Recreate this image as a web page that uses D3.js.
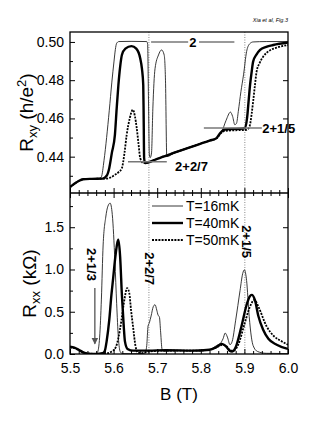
<!DOCTYPE html>
<html lang="en">
<head>
<meta charset="utf-8">
<script src="https://unpkg.com/d3@7/dist/d3.min.js"></script>
<style>
    body { margin: 0; background: #fff; }
    svg { display: block; font-family: "Liberation Sans", Arial, sans-serif; }
</style>
</head>
<body>
<div id="chart"></div>
<script>
// B (T), Rxy (h/e^2)
const rxy16 = [[5.500,0.4241],[5.510,0.4258],[5.520,0.4273],[5.530,0.4282],[5.550,0.4284],[5.566,0.4286],
    [5.572,0.4295],[5.578,0.4380],[5.584,0.4500],[5.590,0.4640],[5.596,0.4790],[5.601,0.4900],[5.604,0.4960],
    [5.607,0.4993],[5.612,0.5002],[5.640,0.5003],[5.676,0.5002],[5.678,0.4990],[5.680,0.4700],[5.682,0.4410],
    [5.684,0.4395],[5.687,0.4420],[5.690,0.4650],[5.695,0.4860],[5.703,0.4932],[5.710,0.4958],[5.716,0.4932],
    [5.719,0.4800],[5.722,0.4400],[5.740,0.4421],[5.780,0.4452],[5.810,0.4476],[5.836,0.4497],[5.848,0.4530],
    [5.858,0.4590],[5.868,0.4633],[5.873,0.4610],[5.878,0.4567],[5.882,0.4575],[5.886,0.4636],[5.892,0.4740],
    [5.898,0.4828],[5.905,0.4949],[5.912,0.4990],[5.920,0.5000],[5.950,0.5002],[6.000,0.5002]];
const rxy40 = [[5.500,0.4241],[5.510,0.4258],[5.520,0.4273],[5.530,0.4282],[5.550,0.4284],[5.575,0.4285],
    [5.584,0.4300],[5.590,0.4340],[5.596,0.4420],[5.603,0.4514],[5.607,0.4650],[5.611,0.4775],[5.615,0.4870],
    [5.619,0.4932],[5.627,0.4965],[5.641,0.4978],[5.652,0.4965],[5.661,0.4915],[5.665,0.4860],[5.668,0.4775],
    [5.669,0.4600],[5.670,0.4393],[5.672,0.4367],[5.676,0.4368],[5.700,0.4389],[5.741,0.4422],[5.780,0.4453],
    [5.820,0.4484],[5.836,0.4497],[5.845,0.4525],[5.855,0.4542],[5.870,0.4545],[5.890,0.4546],[5.901,0.4550],
    [5.906,0.4600],[5.910,0.4700],[5.913,0.4775],[5.917,0.4850],[5.920,0.4897],[5.928,0.4935],[5.936,0.4958],
    [5.950,0.4974],[5.966,0.4984],[6.000,0.4997]];
const rxy50 = [[5.500,0.4241],[5.510,0.4258],[5.520,0.4273],[5.530,0.4282],[5.550,0.4284],[5.580,0.4285],
    [5.592,0.4290],[5.603,0.4305],[5.612,0.4320],[5.619,0.4340],[5.625,0.4420],[5.630,0.4514],[5.637,0.4600],
    [5.644,0.4645],[5.649,0.4610],[5.653,0.4550],[5.657,0.4470],[5.661,0.4393],[5.668,0.4367],[5.676,0.4368],
    [5.700,0.4389],[5.741,0.4422],[5.780,0.4453],[5.820,0.4484],[5.836,0.4495],[5.845,0.4520],[5.855,0.4535],
    [5.880,0.4538],[5.905,0.4540],[5.912,0.4560],[5.917,0.4630],[5.920,0.4688],[5.924,0.4770],[5.928,0.4845],
    [5.935,0.4890],[5.943,0.4923],[5.958,0.4955],[5.974,0.4970],[6.000,0.4984]];

// B (T), Rxx (kOhm)
const rxx16 = [[5.500,0.075],[5.510,0.070],[5.520,0.050],[5.530,0.025],[5.540,0.008],[5.550,0.002],[5.558,0.003],
    [5.563,0.020],[5.568,0.200],[5.572,0.650],[5.576,1.290],[5.582,1.620],[5.587,1.750],[5.592,1.785],[5.597,1.650],
    [5.603,1.095],[5.607,0.600],[5.611,0.190],[5.615,0.030],[5.620,0.005],[5.640,0.003],[5.660,0.005],[5.672,0.010],
    [5.676,0.100],[5.679,0.330],[5.682,0.370],[5.686,0.450],[5.691,0.560],[5.695,0.583],[5.699,0.520],[5.702,0.460],
    [5.705,0.440],[5.708,0.250],[5.711,0.060],[5.715,0.035],[5.740,0.040],[5.780,0.040],[5.815,0.045],[5.825,0.060],
    [5.836,0.100],[5.844,0.120],[5.851,0.180],[5.856,0.248],[5.861,0.200],[5.867,0.110],[5.872,0.150],[5.880,0.400],
    [5.890,0.750],[5.896,0.950],[5.900,0.996],[5.905,0.870],[5.911,0.444],[5.916,0.200],[5.920,0.100],[5.930,0.030],
    [5.950,0.008],[6.000,0.005]];
const rxx40 = [[5.500,0.085],[5.510,0.075],[5.520,0.050],[5.530,0.020],[5.540,0.005],[5.560,0.002],[5.575,0.010],
    [5.580,0.040],[5.584,0.150],[5.590,0.400],[5.595,0.700],[5.599,0.898],[5.604,1.150],[5.611,1.351],[5.615,1.150],
    [5.619,0.700],[5.623,0.350],[5.626,0.149],[5.632,0.060],[5.645,0.040],[5.680,0.040],[5.720,0.045],[5.780,0.040],
    [5.820,0.050],[5.835,0.080],[5.848,0.120],[5.858,0.090],[5.866,0.040],[5.872,0.030],[5.880,0.080],[5.892,0.300],
    [5.905,0.580],[5.912,0.680],[5.917,0.700],[5.924,0.640],[5.932,0.450],[5.943,0.287],[5.955,0.180],[5.974,0.110],
    [6.000,0.060]];
const rxx50 = [[5.500,0.080],[5.510,0.070],[5.520,0.045],[5.530,0.018],[5.540,0.005],[5.560,0.002],[5.580,0.005],
    [5.596,0.030],[5.605,0.080],[5.611,0.190],[5.618,0.400],[5.625,0.650],[5.631,0.780],[5.636,0.720],[5.640,0.520],
    [5.645,0.307],[5.650,0.100],[5.655,0.020],[5.665,0.010],[5.680,0.030],[5.720,0.040],[5.780,0.040],[5.820,0.050],
    [5.835,0.075],[5.850,0.110],[5.860,0.085],[5.868,0.040],[5.875,0.040],[5.885,0.100],[5.900,0.350],[5.912,0.550],
    [5.923,0.640],[5.932,0.560],[5.951,0.326],[5.968,0.210],[5.986,0.149],[6.000,0.110]];

const legendLabels = ["T=16mK", "T=40mK", "T=50mK"];
const xTicks = [5.5, 5.6, 5.7, 5.8, 5.9, 6.0];
const xMinor = [5.52, 5.54, 5.56, 5.58, 5.62, 5.64, 5.66, 5.68, 5.72, 5.74, 5.76, 5.78, 5.82, 5.84, 5.86, 5.88, 5.92, 5.94, 5.96, 5.98];
const rxyTicks = [0.44, 0.46, 0.48, 0.50];
const rxyMinor = [0.43, 0.45, 0.47, 0.49];
const rxxTicks = [0.0, 0.5, 1.0, 1.5];
const rxxMinor = [0.25, 0.75, 1.25, 1.75];
const fractionB = [5.681, 5.901];

const width = 327, height = 423;
const pLeft = 70, pRight = 288, pTop = 32, pMid = 193, pBottom = 354;

const x = d3.scaleLinear().domain([5.5, 6.0]).range([pLeft, pRight]);
const yTop = d3.scaleLinear().domain([0.421, 0.5052]).range([pMid, pTop]);
const yBot = d3.scaleLinear().domain([0, 1.905]).range([pBottom, pMid]);

const styles = [
    { w: 0.9, color: "#222", dash: null },
    { w: 2.4, color: "#000", dash: null },
    { w: 1.8, color: "#000", dash: "2,1.2" }
];

const svg = d3.select("#chart").append("svg")
    .attr("width", width)
    .attr("height", height);

svg.append("defs").call(defs => {
    defs.append("clipPath").attr("id", "clipTop").append("rect")
        .attr("x", pLeft).attr("y", pTop).attr("width", pRight - pLeft).attr("height", pMid - pTop);
    defs.append("clipPath").attr("id", "clipBot").append("rect")
        .attr("x", pLeft).attr("y", pMid).attr("width", pRight - pLeft).attr("height", pBottom - pMid);
    defs.append("marker").attr("id", "arrow")
        .attr("viewBox", "0 0 10 10").attr("refX", 9).attr("refY", 5)
        .attr("markerWidth", 5).attr("markerHeight", 6).attr("orient", "auto")
        .append("path").attr("d", "M0,0L10,5L0,10z").attr("fill", "#555");
});

// dotted guide lines
svg.selectAll(".guide")
    .data(fractionB)
    .join("line")
    .attr("x1", d => x(d)).attr("x2", d => x(d))
    .attr("y1", pTop).attr("y2", pBottom)
    .attr("stroke", "#555").attr("stroke-width", 0.7)
    .attr("stroke-dasharray", "1,1.5");

// curves
const lineTop = d3.line().x(d => x(d[0])).y(d => yTop(d[1])).curve(d3.curveMonotoneX);
const lineBot = d3.line().x(d => x(d[0])).y(d => yBot(d[1])).curve(d3.curveMonotoneX);

svg.append("g").attr("clip-path", "url(#clipTop)")
    .selectAll("path")
    .data([rxy16, rxy40, rxy50])
    .join("path")
    .attr("d", lineTop)
    .attr("fill", "none")
    .attr("stroke", (d, i) => styles[i].color)
    .attr("stroke-width", (d, i) => styles[i].w)
    .attr("stroke-dasharray", (d, i) => styles[i].dash);

svg.append("g").attr("clip-path", "url(#clipBot)")
    .selectAll("path")
    .data([rxx16, rxx40, rxx50])
    .join("path")
    .attr("d", lineBot)
    .attr("fill", "none")
    .attr("stroke", (d, i) => styles[i].color)
    .attr("stroke-width", (d, i) => styles[i].w)
    .attr("stroke-dasharray", (d, i) => styles[i].dash);

// axes
function axisG(tr, axis) {
    const g = svg.append("g").attr("transform", tr).call(axis);
    g.select(".domain").remove();
    g.selectAll("line").attr("stroke", "#000");
    g.selectAll("text").attr("font-size", 14).attr("fill", "#000")
        .attr("font-family", "Liberation Sans, Arial, sans-serif");
    return g;
}

axisG(`translate(${pLeft},0)`, d3.axisLeft(yTop).tickValues(rxyTicks).tickSize(-5).tickPadding(6).tickFormat(d3.format(".2f")));
axisG(`translate(${pLeft},0)`, d3.axisLeft(yTop).tickValues(rxyMinor).tickSize(-3).tickFormat(""));
axisG(`translate(${pRight},0)`, d3.axisRight(yTop).tickValues(rxyTicks).tickSize(-5).tickFormat(""));

axisG(`translate(${pLeft},0)`, d3.axisLeft(yBot).tickValues(rxxTicks).tickSize(-5).tickPadding(6).tickFormat(d3.format(".1f")));
axisG(`translate(${pLeft},0)`, d3.axisLeft(yBot).tickValues(rxxMinor).tickSize(-3).tickFormat(""));
axisG(`translate(${pRight},0)`, d3.axisRight(yBot).tickValues(rxxTicks.slice(1)).tickSize(-5).tickFormat(""));

axisG(`translate(0,${pMid})`, d3.axisTop(x).tickValues(xTicks).tickSize(5).tickFormat(""));
axisG(`translate(0,${pMid})`, d3.axisTop(x).tickValues(xMinor).tickSize(3).tickFormat(""));
axisG(`translate(0,${pMid})`, d3.axisBottom(x).tickValues(xTicks).tickSize(5).tickFormat(""));
axisG(`translate(0,${pMid})`, d3.axisBottom(x).tickValues(xMinor).tickSize(3).tickFormat(""));

axisG(`translate(0,${pBottom})`, d3.axisBottom(x).tickValues(xTicks).tickSize(-5).tickPadding(9).tickFormat(d3.format(".1f")));
axisG(`translate(0,${pBottom})`, d3.axisBottom(x).tickValues(xMinor).tickSize(-3).tickFormat(""));

// frame
svg.append("rect")
    .attr("x", pLeft).attr("y", pTop)
    .attr("width", pRight - pLeft).attr("height", pBottom - pTop)
    .attr("fill", "none").attr("stroke", "#000").attr("stroke-width", 1.3);
svg.append("line")
    .attr("x1", pLeft).attr("x2", pRight).attr("y1", pMid).attr("y2", pMid)
    .attr("stroke", "#000").attr("stroke-width", 1.3);

// axis titles
const tTop = svg.append("text")
    .attr("transform", `translate(33,${(pTop + pMid) / 2}) rotate(-90)`)
    .attr("text-anchor", "middle").attr("font-size", 19);
tTop.append("tspan").text("R");
tTop.append("tspan").attr("font-size", 13).attr("dy", 4).text("xy");
tTop.append("tspan").attr("dy", -4).text(" (h/e");
tTop.append("tspan").attr("font-size", 13).attr("dy", -7).text("2");
tTop.append("tspan").attr("dy", 7).text(")");

const tBot = svg.append("text")
    .attr("transform", `translate(36,${(pMid + pBottom) / 2 + 10}) rotate(-90)`)
    .attr("text-anchor", "middle").attr("font-size", 19);
tBot.append("tspan").text("R");
tBot.append("tspan").attr("font-size", 13).attr("dy", 4).text("xx");
tBot.append("tspan").attr("dy", -4).text(" (k\u03A9)");

svg.append("text")
    .attr("x", (pLeft + pRight) / 2).attr("y", 400)
    .attr("text-anchor", "middle").attr("font-size", 17)
    .text("B (T)");

svg.append("text")
    .attr("x", pRight).attr("y", 22)
    .attr("text-anchor", "end").attr("font-size", 5.5).attr("font-style", "italic")
    .text("Xia et al, Fig.3");

// legend
const legend = svg.append("g");
legendLabels.forEach((lab, i) => {
    const yy = 206 + i * 17;
    legend.append("line")
        .attr("x1", 152).attr("x2", 183).attr("y1", yy).attr("y2", yy)
        .attr("stroke", styles[i].color).attr("stroke-width", styles[i].w)
        .attr("stroke-dasharray", styles[i].dash);
    legend.append("text")
        .attr("x", 186).attr("y", yy + 5)
        .attr("font-size", 14).text(lab);
});

// plateau markers in Rxy
const grey = "#777";
const seg = (b0, b1, r) => svg.append("line")
    .attr("x1", x(b0)).attr("x2", x(b1)).attr("y1", yTop(r)).attr("y2", yTop(r))
    .attr("stroke", grey).attr("stroke-width", 1.5);
seg(5.686, 5.771, 0.500);
seg(5.796, 5.877, 0.500);
seg(5.633, 5.722, 0.4373);
seg(5.807, 5.940, 0.4550);

const bold = (tx, ty, s) => svg.append("text")
    .attr("x", tx).attr("y", ty)
    .attr("font-size", 13).attr("font-weight", "bold").text(s);
bold(x(5.7735), yTop(0.500) + 5, "2");
bold(x(5.741), yTop(0.4373) + 9, "2+2/7");
bold(x(5.941), yTop(0.4550) + 5, "2+1/5");

// vertical labels in Rxx
const vlabel = (b, r, s) => svg.append("text")
    .attr("transform", `translate(${x(b)},${yBot(r)}) rotate(90)`)
    .attr("text-anchor", "middle")
    .attr("font-size", 13).attr("font-weight", "bold").text(s);
vlabel(5.538, 1.06, "2+1/3");
vlabel(5.671, 1.01, "2+2/7");
vlabel(5.895, 1.33, "2+1/5");

svg.append("line")
    .attr("x1", x(5.557)).attr("x2", x(5.557))
    .attr("y1", yBot(0.78)).attr("y2", yBot(0.12))
    .attr("stroke", "#555").attr("stroke-width", 1.3)
    .attr("marker-end", "url(#arrow)");
</script>
</body>
</html>
